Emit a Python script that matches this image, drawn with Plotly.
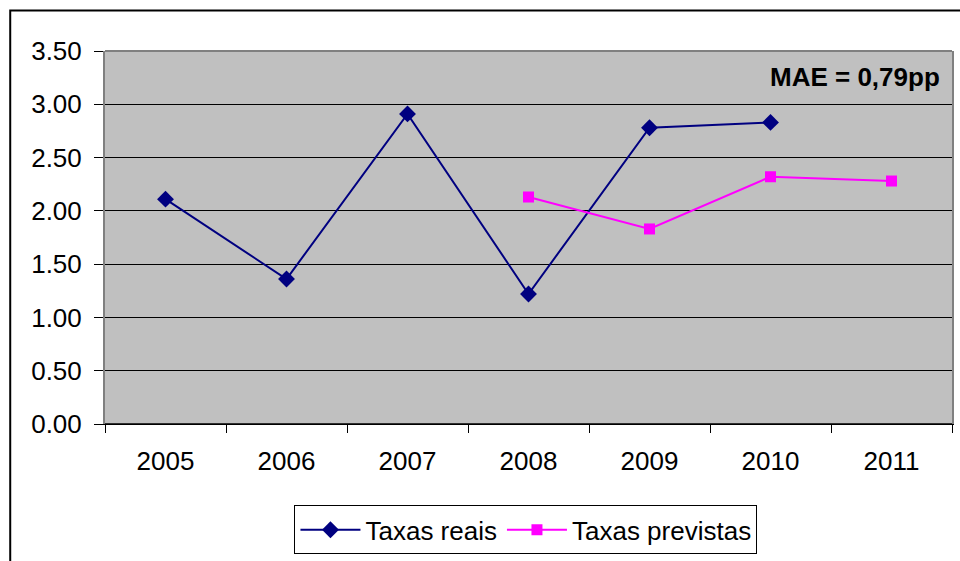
import plotly.graph_objects as go

# Annual rates: observed vs forecast
anos = ["2005", "2006", "2007", "2008", "2009", "2010", "2011"]
taxas_reais = [2.11, 1.36, 2.91, 1.22, 2.78, 2.83, None]
taxas_previstas = [None, None, None, 2.13, 1.83, 2.32, 2.28]
y_ticks = [0.0, 0.5, 1.0, 1.5, 2.0, 2.5, 3.0, 3.5]
y_tick_labels = [f"{v:.2f}" for v in y_ticks]
mae_label = "MAE = 0,79pp"

FONT = "Liberation Sans, Arial, sans-serif"
FS = 26

fig = go.Figure()
fig.add_trace(go.Scatter(
    x=anos, y=taxas_reais, name="Taxas reais", mode="lines+markers",
    line=dict(color="#000080", width=2),
    marker=dict(symbol="diamond", size=13, color="#000080"),
    connectgaps=False,
))
fig.add_trace(go.Scatter(
    x=anos, y=taxas_previstas, name="Taxas previstas", mode="lines+markers",
    line=dict(color="#FF00FF", width=2),
    marker=dict(symbol="square", size=11, color="#FF00FF"),
    connectgaps=False,
))

L, R, T, B = 105, 6, 51, 133
W, H = 960, 561
pw, ph = W - L - R, H - T - B

def px_x(p):
    return (p - L) / pw

def px_y(p):
    return (H - B - p) / ph

fig.update_layout(
    width=W, height=H,
    margin=dict(l=L, r=R, t=T, b=B, pad=0),
    paper_bgcolor="white", plot_bgcolor="#C0C0C0",
    font=dict(family=FONT, size=FS, color="black"),
    showlegend=True,
    legend=dict(
        orientation="h", x=0.497, y=px_y(535), xanchor="center", yanchor="middle",
        bgcolor="white", bordercolor="black", borderwidth=1,
        font=dict(family=FONT, size=FS, color="black"),
        itemwidth=60, tracegroupgap=0,
    ),
    xaxis=dict(
        type="category", categoryorder="array", categoryarray=anos,
        range=[-0.5, len(anos) - 0.5],
        showgrid=False, zeroline=False,
        showline=True, linecolor="black", linewidth=1,
        ticks="outside", tickson="boundaries", ticklen=8, tickcolor="black", tickwidth=1,
        ticklabelstandoff=14,
        tickfont=dict(family=FONT, size=FS, color="black"),
    ),
    yaxis=dict(
        range=[0, 3.5], tickvals=y_ticks, ticktext=y_tick_labels,
        showgrid=True, gridcolor="black", gridwidth=1,
        zeroline=False,
        showline=True, linecolor="#808080", linewidth=2, mirror=True,
        ticks="outside", ticklen=9, tickcolor="black", tickwidth=1,
        ticklabelstandoff=7,
        tickfont=dict(family=FONT, size=FS, color="black"),
    ),
    annotations=[dict(
        text=f"<b>{mae_label}</b>", xref="paper", yref="paper",
        x=px_x(944), y=px_y(77), xanchor="right", yanchor="middle",
        showarrow=False, font=dict(family=FONT, size=FS, color="black"),
    )],
    shapes=[
        # grey top edge of the plotting area
        dict(type="line", xref="paper", yref="paper", x0=0, x1=1, y0=1, y1=1,
             line=dict(color="#808080", width=2), layer="above"),
        # black bottom axis drawn over the grey frame
        dict(type="line", xref="paper", yref="paper", x0=0, x1=1, y0=0, y1=0,
             line=dict(color="black", width=1.5), layer="above"),
        # outer chart frame
        dict(type="rect", xref="paper", yref="paper",
             x0=px_x(10), x1=px_x(975), y0=px_y(10), y1=px_y(580),
             line=dict(color="black", width=2), fillcolor="rgba(0,0,0,0)", layer="above"),
    ],
)

fig.write_html("out.html")
